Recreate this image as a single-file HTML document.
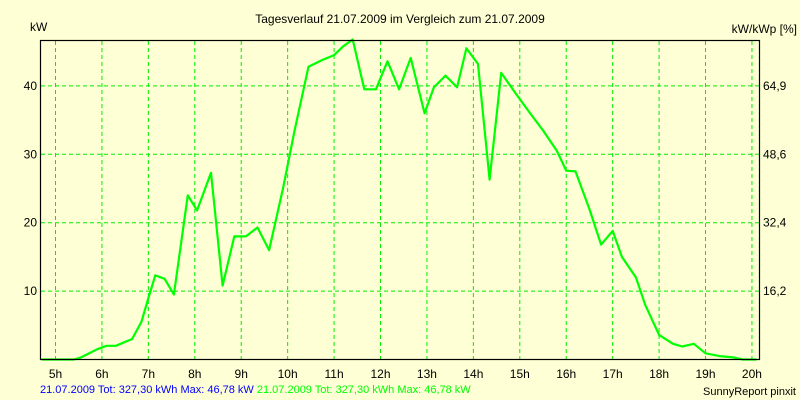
<!DOCTYPE html>
<html><head><meta charset="utf-8"><style>
body{margin:0;background:#ffffd5;}
svg{display:block;font-family:"Liberation Sans",sans-serif;}
</style></head><body>
<svg id="chart" width="800" height="400" viewBox="0 0 800 400">
<rect width="800" height="400" fill="#ffffd5"/>
<text x="400" y="23" text-anchor="middle" font-size="12">Tagesverlauf 21.07.2009 im Vergleich zum 21.07.2009</text>
<text x="30" y="31" font-size="12">kW</text>
<text x="797" y="33" text-anchor="end" font-size="12">kW/kWp [%]</text>
<g id="grid"></g><g id="ticks"></g>
<polyline id="series" fill="none" stroke="#00ff00" stroke-width="2.2" stroke-linejoin="round"/>
<rect x="40.5" y="40.5" width="719" height="319" fill="none" stroke="#000" stroke-width="1.2"/>
<text x="40" y="393" font-size="11" fill="#0000ff">21.07.2009 Tot: 327,30 kWh Max: 46,78 kW <tspan fill="#00ff00">21.07.2009 Tot: 327,30 kWh Max: 46,78 kW</tspan></text>
<text x="796" y="395" text-anchor="end" font-size="11">SunnyReport pinxit</text>
</svg>
<script>
const hours=[5,6,7,8,9,10,11,12,13,14,15,16,17,18,19,20];
const kwTicks=[10,20,30,40];
const pctTicks=["16,2","32,4","48,6","64,9"];
const times=[4.7,5.4,5.55,5.9,6.1,6.3,6.65,6.85,7.0,7.15,7.35,7.55,7.85,8.05,8.35,8.6,8.85,9.1,9.35,9.6,9.9,10.15,10.45,10.75,11.0,11.2,11.4,11.65,11.9,12.15,12.4,12.65,12.95,13.15,13.4,13.65,13.85,14.1,14.35,14.6,14.9,15.2,15.5,15.8,16.0,16.2,16.5,16.75,17.0,17.2,17.5,17.7,18.0,18.3,18.5,18.75,19.0,19.3,19.6,19.8,20.1];
const power=[0,0,0.3,1.5,2,2,3,5.5,9,12.3,11.8,9.5,24,21.8,27.3,10.8,18,18,19.3,16,25,33.5,42.8,43.8,44.5,45.8,46.78,39.5,39.5,43.6,39.5,44.1,36,39.8,41.5,39.8,45.5,43.2,26.3,41.9,39,36.2,33.5,30.5,27.6,27.5,22,16.8,18.8,15,12,8,3.6,2.3,1.9,2.3,0.9,0.5,0.3,0,0];
const X=h=>55.5+(h-5)*46.43;
const Y=v=>359.5-v*6.84;
const ns="http://www.w3.org/2000/svg";
const grid=document.getElementById('grid'),ticks=document.getElementById('ticks');
function mk(tag,attrs,parent){const e=document.createElementNS(ns,tag);for(const k in attrs)e.setAttribute(k,attrs[k]);parent.appendChild(e);return e;}
hours.forEach(h=>{
 const l=mk('line',{x1:X(h),x2:X(h),y1:41,y2:359,stroke:'#00ee00','stroke-dasharray':'4,3'},grid);
 
 
 const t=mk('text',{x:X(h),y:378,'text-anchor':'middle','font-size':'12'},ticks);
 t.textContent=h+'h';
 
 
});
kwTicks.forEach((v,i)=>{
 const l=mk('line',{x1:41,x2:759,y1:Y(v),y2:Y(v),stroke:'#00ee00','stroke-dasharray':'4,3'},grid);
 
 
 const t=mk('text',{x:37,y:Y(v)+4,'text-anchor':'end','font-size':'12'},ticks);
 t.textContent=v;
 
 
 const t2=mk('text',{x:763,y:Y(v)+4,'font-size':'12'},ticks);
 t2.textContent=pctTicks[i];
 
 
});
document.getElementById('series').setAttribute('points',times.map((t,i)=>X(t).toFixed(1)+','+Y(power[i]).toFixed(1)).join(' '));
</script>
</body></html>
